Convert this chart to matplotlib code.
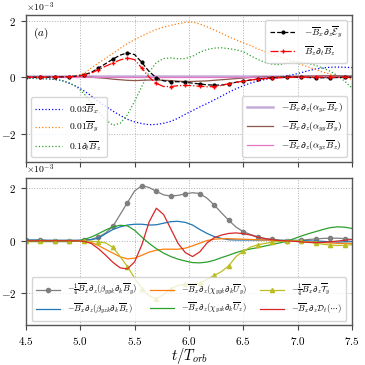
import numpy as np
import matplotlib
matplotlib.use('Agg')
import matplotlib.pyplot as plt

plt.rcParams['font.family'] = 'serif'
plt.rcParams['font.serif'] = ['cmr10']
plt.rcParams['mathtext.fontset'] = 'cm'
plt.rcParams['axes.formatter.use_mathtext'] = True
plt.rcParams['axes.unicode_minus'] = True

# time grid (t / T_orb), sampled every 1/15 orbit
t = np.linspace(4.5, 7.5, 46)

# ---- top panel (units of 1e-3) ----
bx_03 = [-0.04, -0.04, -0.05, -0.06, -0.08, -0.12, -0.22, -0.33, -0.48, -0.66,
         -0.86, -1.03, -1.2, -1.35, -1.49, -1.58, -1.64, -1.68, -1.67, -1.63,
         -1.56, -1.45, -1.31, -1.18, -1.05, -0.93, -0.8, -0.67, -0.53, -0.41,
         -0.3, -0.21, -0.14, -0.08, -0.04, 0.0, 0.04, 0.1, 0.16, 0.23,
         0.29, 0.33, 0.35, 0.36, 0.35, 0.34]
by_01 = [0.0, 0.0, 0.0, 0.0, 0.01, 0.02, 0.03, 0.06, 0.13, 0.32,
         0.5, 0.67, 0.84, 1.02, 1.19, 1.33, 1.46, 1.58, 1.69, 1.77,
         1.83, 1.89, 1.94, 1.95, 1.88, 1.78, 1.67, 1.55, 1.43, 1.32,
         1.22, 1.12, 1.0, 0.9, 0.8, 0.72, 0.63, 0.54, 0.45, 0.36,
         0.27, 0.18, 0.11, 0.04, -0.02, -0.07]
dtbz_1 = [-0.04, -0.04, -0.05, -0.06, -0.08, -0.12, -0.2, -0.34, -0.58, -0.9,
          -1.22, -1.5, -1.7, -1.63, -1.33, -0.85, -0.32, 0.18, 0.52, 0.66,
          0.68, 0.65, 0.66, 0.74, 0.88, 0.98, 1.03, 1.04, 1.01, 0.97,
          0.9, 0.76, 0.63, 0.52, 0.46, 0.44, 0.5, 0.55, 0.53, 0.48,
          0.42, 0.32, 0.21, 0.06, -0.14, -0.38]
emf_term = [0.0, 0.0, 0.0, 0.0, 0.01, 0.01, 0.02, 0.04, 0.08, 0.17,
            0.32, 0.48, 0.64, 0.78, 0.86, 0.8, 0.52, 0.2, -0.02, -0.13,
            -0.16, -0.16, -0.18, -0.21, -0.24, -0.27, -0.28, -0.28, -0.23, -0.18,
            -0.14, -0.1, -0.07, -0.04, -0.02, -0.01, 0.0, 0.0, 0.0, -0.01,
            -0.02, -0.02, -0.02, -0.01, 0.0, 0.0]
bz_dtbz = [0.0, 0.0, 0.0, 0.0, 0.01, 0.01, 0.02, 0.03, 0.07, 0.14,
           0.27, 0.39, 0.5, 0.61, 0.68, 0.62, 0.32, 0.0, -0.22, -0.33,
           -0.33, -0.3, -0.29, -0.3, -0.32, -0.34, -0.33, -0.29, -0.23, -0.18,
           -0.14, -0.1, -0.07, -0.05, -0.03, -0.02, -0.01, 0.0, 0.0, 0.0,
           0.0, 0.0, 0.0, 0.0, 0.0, 0.0]
alpha_yx = [0.03] * 46
alpha_yy = [0.0, 0.0, 0.0, 0.0, 0.0, 0.0, 0.0, 0.0, 0.0, 0.0,
            -0.02, -0.04, -0.07, -0.09, -0.11, -0.12, -0.11, -0.1, -0.1, -0.11,
            -0.12, -0.14, -0.15, -0.15, -0.14, -0.13, -0.11, -0.09, -0.07, -0.05,
            -0.03, -0.01, 0.0, 0.01, 0.01, 0.02, 0.02, 0.03, 0.03, 0.04,
            0.04, 0.05, 0.05, 0.05, 0.04, 0.04]
alpha_yz = [0.01] * 46

# ---- bottom panel (units of 1e-3) ----
beta_yy = [0.02, 0.02, 0.02, 0.01, 0.01, 0.01, 0.01, 0.01, 0.02, 0.05,
           0.14, 0.3, 0.55, 1.0, 1.45, 1.9, 2.1, 2.03, 1.88, 1.75,
           1.7, 1.73, 1.79, 1.83, 1.8, 1.62, 1.36, 1.06, 0.78, 0.52,
           0.35, 0.24, 0.15, 0.09, 0.05, 0.02, 0.0, 0.0, 0.02, 0.05,
           0.07, 0.09, 0.1, 0.1, 0.08, 0.05]
beta_yz = [0.03, 0.03, 0.03, 0.02, 0.02, 0.02, 0.02, 0.02, 0.02, 0.04,
           0.1, 0.27, 0.43, 0.53, 0.6, 0.63, 0.63, 0.6, 0.61, 0.67,
           0.73, 0.74, 0.7, 0.6, 0.43, 0.28, 0.16, 0.09, 0.04, 0.03,
           0.03, 0.03, 0.03, 0.03, 0.03, 0.02, 0.02, 0.02, 0.01, 0.0,
           -0.01, -0.02, -0.04, -0.05, -0.04, -0.03]
chi_yy = [-0.01, -0.01, -0.01, -0.01, -0.01, -0.01, -0.01, -0.01, -0.02, -0.06,
          -0.18, -0.33, -0.47, -0.61, -0.69, -0.66, -0.55, -0.43, -0.36, -0.32,
          -0.32, -0.32, -0.28, -0.19, -0.09, 0.01, 0.06, 0.08, 0.08, 0.07,
          0.06, 0.05, 0.04, 0.03, 0.02, 0.01, 0.0, -0.01, -0.02, -0.04,
          -0.05, -0.07, -0.08, -0.1, -0.1, -0.1]
chi_yz = [-0.03, -0.03, -0.03, -0.03, -0.03, -0.03, -0.03, -0.01, 0.05, 0.14,
          0.27, 0.41, 0.53, 0.59, 0.57, 0.4, 0.14, -0.1, -0.3, -0.47,
          -0.6, -0.7, -0.77, -0.83, -0.84, -0.81, -0.74, -0.64, -0.55, -0.45,
          -0.37, -0.31, -0.26, -0.2, -0.14, -0.08, -0.02, 0.08, 0.18, 0.27,
          0.35, 0.43, 0.5, 0.53, 0.52, 0.47]
tau_y = [0.0, 0.0, 0.0, 0.0, 0.0, 0.0, 0.0, 0.0, -0.01, -0.02,
         -0.04, -0.08, -0.25, -0.6, -0.98, -1.42, -1.82, -2.1, -2.2, -2.05,
         -1.82, -1.7, -1.65, -1.65, -1.6, -1.47, -1.32, -1.17, -0.95, -0.6,
         -0.4, -0.24, -0.15, -0.1, -0.05, -0.02, 0.0, 0.0, -0.02, -0.05,
         -0.09, -0.13, -0.16, -0.18, -0.17, -0.15]
diss_t = [0.0, 0.0, 0.0, 0.0, 0.0, 0.0, 0.0, 0.0, -0.02, -0.1,
          -0.3, -0.55, -0.82, -1.03, -1.07, -0.8, -0.15, 0.72, 1.24, 1.0,
          0.45, -0.1, -0.45, -0.6, -0.42, -0.08, 0.12, 0.22, 0.28, 0.3,
          0.27, 0.22, 0.14, 0.08, 0.04, 0.01, 0.0, -0.02, -0.04, -0.06,
          -0.07, -0.06, -0.04, -0.01, 0.02, 0.05]

s = 1e-3
fig = plt.figure(figsize=(3.65, 3.65), dpi=100)
ax1 = fig.add_axes([0.0712, 0.556, 0.893, 0.403])
ax2 = fig.add_axes([0.0712, 0.110, 0.893, 0.403])

lw = 0.9
l1, = ax1.plot(t, np.array(bx_03) * s, ':', color='b', lw=lw, label=r'$0.03\overline{B}_x$')
l2, = ax1.plot(t, np.array(by_01) * s, ':', color='C1', lw=lw, label=r'$0.01\overline{B}_y$')
l3, = ax1.plot(t, np.array(dtbz_1) * s, ':', color='C2', lw=lw, label=r'$0.1\partial_t\overline{B}_z$')
l4, = ax1.plot(t, np.array(alpha_yx) * s, '-', color='#9467bd', alpha=0.55, lw=1.8,
               label=r'$-\overline{B}_x\partial_z(\alpha_{yx}\overline{B}_x)$')
l5, = ax1.plot(t, np.array(alpha_yy) * s, '-', color='C5', lw=lw,
               label=r'$-\overline{B}_x\partial_z(\alpha_{yy}\overline{B}_y)$')
l6, = ax1.plot(t, np.array(alpha_yz) * s, '-', color='C6', lw=lw,
               label=r'$-\overline{B}_x\partial_z(\alpha_{yz}\overline{B}_z)$')
l7, = ax1.plot(t, np.array(emf_term) * s, '--', color='k', lw=lw, marker='.', ms=4,
               markevery=2, label=r'$-\overline{B}_x\partial_z\overline{\mathcal{E}}_y$')
l8, = ax1.plot(t, np.array(bz_dtbz) * s, '-.', color='r', lw=lw, marker='+', ms=3.5,
               markevery=2, label=r'$\overline{B}_z\partial_t\overline{B}_z$')

leg_kw = dict(fontsize=6.8, handlelength=2.8, borderpad=0.5, labelspacing=0.45)
lg1 = ax1.legend(handles=[l7, l8], loc='upper right', **leg_kw)
ax1.add_artist(lg1)
lg2 = ax1.legend(handles=[l1, l2, l3], loc='lower left', **leg_kw)
ax1.add_artist(lg2)
ax1.legend(handles=[l4, l5, l6], loc='lower right', **leg_kw)
ax1.text(0.02, 0.93, r'$(a)$', transform=ax1.transAxes, fontsize=8, va='top')
ax1.set_ylim(-3e-3, 2.2e-3)
ax1.tick_params(labelbottom=False)

ax2.plot(t, np.array(beta_yy) * s, '-', color='C7', lw=lw, marker='o', ms=3, markevery=2,
         label=r'$-\frac{1}{4}\overline{B}_x\partial_z(\beta_{yyk}\partial_k\overline{B}_y)$')
ax2.plot(t, np.array(beta_yz) * s, '-', color='C0', lw=lw,
         label=r'$-\overline{B}_x\partial_z(\beta_{yzk}\partial_k\overline{B}_z)$')
ax2.plot(t, np.array(chi_yy) * s, '-', color='C1', lw=lw,
         label=r'$-\overline{B}_x\partial_z(\chi_{yyk}\partial_k\overline{U}_y)$')
ax2.plot(t, np.array(chi_yz) * s, '-', color='C2', lw=lw,
         label=r'$-\overline{B}_x\partial_z(\chi_{yzk}\partial_k\overline{U}_z)$')
ax2.plot(t, np.array(tau_y) * s, '-', color='C8', lw=lw, marker='^', ms=3, markevery=2,
         label=r'$-\frac{1}{4}\overline{B}_x\partial_z\overline{\mathcal{T}}_y$')
ax2.plot(t, np.array(diss_t) * s, '-', color='C3', lw=lw,
         label=r'$-\overline{B}_x\partial_z\mathcal{D}_t(\cdots)$')
ax2.legend(loc='lower center', ncol=3, fontsize=6.2, handlelength=2.8, columnspacing=1.5,
           borderpad=0.5, labelspacing=0.45)
ax2.set_ylim(-3.2e-3, 2.4e-3)
ax2.set_xlabel(r'$t/T_{orb}$', fontsize=10.5)
ax2.xaxis.set_label_coords(0.5, -0.145)

for ax in (ax1, ax2):
    ax.set_xlim(4.5, 7.5)
    ax.set_xticks([4.5, 5.0, 5.5, 6.0, 6.5, 7.0, 7.5])
    ax.set_yticks([-2e-3, 0, 2e-3])
    ax.ticklabel_format(axis='y', style='sci', scilimits=(-2, 2))
    ax.grid(True, ls=':', color='#b0b0b0', lw=0.7)
    ax.tick_params(labelsize=8, color='#444444', length=3.5, width=0.8)
    for sp in ax.spines.values():
        sp.set_color('#555555')
        sp.set_linewidth(1.0)
    ax.yaxis.get_offset_text().set_fontsize(7)

ax2.xaxis.set_major_formatter(matplotlib.ticker.FormatStrFormatter('$%.1f$'))

fig.savefig('out.png', dpi=100)
